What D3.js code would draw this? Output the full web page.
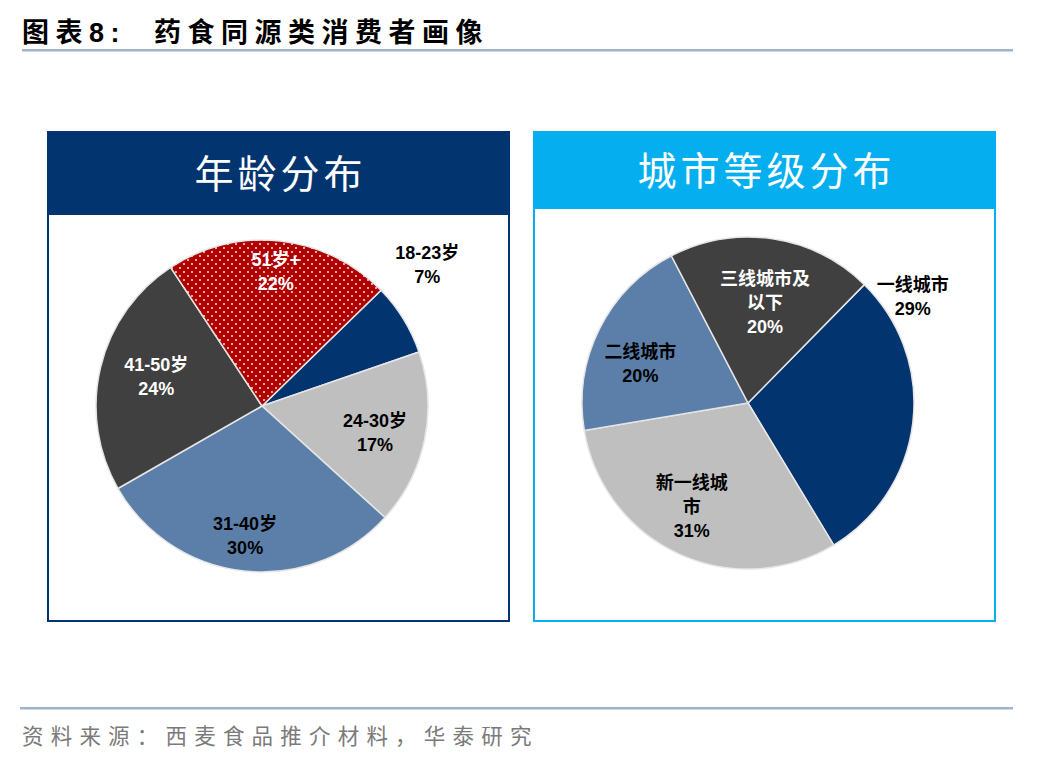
<!DOCTYPE html>
<html>
<head>
<meta charset="utf-8">
<script src="https://cdn.jsdelivr.net/npm/d3@7"></script>
<style>
    body { margin: 0; background: #fff; }
    text { font-family: "Liberation Sans", Arial, "Noto Sans CJK SC", sans-serif; }
    .cjk { font-family: "Noto Sans CJK SC", sans-serif; }
    .slice { stroke: #e6e6e6; stroke-width: 1.5px; }
    .lbl { font-size: 18px; font-weight: bold; }
</style>
</head>
<body>
<script>
// chart data
const titleText = "图表8:  药食同源类消费者画像";
const sourceText = "资料来源：西麦食品推介材料，华泰研究";

const agePanelTitle = "年龄分布";
const ageLabels = ["18-23岁", "24-30岁", "31-40岁", "41-50岁", "51岁+"];
const ageValues = [7, 17, 30, 24, 22];

const cityPanelTitle = "城市等级分布";
const cityLabels = ["一线城市", "新一线城市", "二线城市", "三线城市及以下"];
const cityLines = [["一线城市"], ["新一线城", "市"], ["二线城市"], ["三线城市及", "以下"]];
const cityValues = [29, 31, 20, 20];

// layout
const W = 1048, H = 760;
const svg = d3.select("body").append("svg")
    .attr("width", W)
    .attr("height", H);

// dotted pattern for the 51+ slice
let pat = svg.append("defs").append("pattern")
    .attr("id", "dots")
    .attr("patternUnits", "userSpaceOnUse")
    .attr("width", 8).attr("height", 8);
pat.append("rect").attr("width", 8).attr("height", 8).attr("fill", "#b00000");
pat.append("circle").attr("cx", 2).attr("cy", 2).attr("r", 0.9).attr("fill", "#fff");
pat.append("circle").attr("cx", 6).attr("cy", 6).attr("r", 0.9).attr("fill", "#fff");

// title + rules
svg.append("text")
    .attr("x", 22).attr("y", 42)
    .attr("font-size", 27).attr("font-weight", "bold")
    .attr("letter-spacing", 6.5)
    .attr("xml:space", "preserve")
    .text(titleText);
svg.append("rect").attr("x", 22).attr("y", 49).attr("width", 991).attr("height", 2.5).attr("fill", "#9fb3cc");
svg.append("rect").attr("x", 20).attr("y", 707).attr("width", 993).attr("height", 2.5).attr("fill", "#9fb3cc");
svg.append("text")
    .attr("class", "cjk")
    .attr("x", 22).attr("y", 744)
    .attr("font-size", 21.5).attr("fill", "#7a7a7a")
    .attr("letter-spacing", 7.2)
    .text(sourceText);

function panel(x, y, w, h, headH, color, title) {
    let g = svg.append("g");
    g.append("rect")
        .attr("x", x).attr("y", y).attr("width", w).attr("height", h)
        .attr("fill", "#fff").attr("stroke", color).attr("stroke-width", 2);
    g.append("rect")
        .attr("x", x).attr("y", y).attr("width", w).attr("height", headH)
        .attr("fill", color);
    g.append("text")
        .attr("class", "cjk")
        .attr("x", x + w / 2 + 2).attr("y", y + headH / 2 + 14)
        .attr("text-anchor", "middle")
        .attr("fill", "#fff").attr("font-size", 39)
        .attr("letter-spacing", 4)
        .text(title);
}

panel(48, 132, 461, 489, 83, "#02346f", agePanelTitle);
panel(534, 132, 461, 489, 77, "#05aeee", cityPanelTitle);

function drawPie(cx, cy, r, values, startDeg, colors, lines, textColors, spots) {
    let pie = d3.pie().sort(null)
        .startAngle(startDeg * Math.PI / 180)
        .endAngle((startDeg + 360) * Math.PI / 180);
    let arcs = pie(values);
    let arc = d3.arc().innerRadius(0).outerRadius(r);
    let g = svg.append("g").attr("transform", "translate(" + cx + "," + cy + ")");

    g.selectAll("path")
        .data(arcs)
        .join("path")
        .attr("class", "slice")
        .attr("d", arc)
        .attr("fill", (d, i) => colors[i]);

    // label at a fraction of the radius, with optional angle shift
    arcs.forEach((d, i) => {
        let a = (d.startAngle + d.endAngle) / 2 + spots[i][1] * Math.PI / 180;
        let rr = r * spots[i][0];
        let lx = Math.sin(a) * rr, ly = -Math.cos(a) * rr;
        let ls = lines[i];
        let lineH = 24;
        let t = g.append("text")
            .attr("class", "lbl")
            .attr("text-anchor", "middle")
            .attr("fill", textColors[i]);
        ls.forEach((s, k) => {
            t.append("tspan")
                .attr("x", lx)
                .attr("y", ly + (k - (ls.length - 1) / 2) * lineH + 6)
                .text(s);
        });
    });
}

// age pie
drawPie(262, 406, 166, ageValues, 45.8,
    ["#02346f", "#bfbfbf", "#5b7fa9", "#404040", "url(#dots)"],
    ageLabels.map((l, i) => [l, ageValues[i] + "%"]),
    ["#000", "#000", "#000", "#fff", "#fff"],
    [[1.31, -8.9], [0.70, 2], [0.79, 1.2], [0.66, 1.8], [0.81, -0.3]]);

// city pie
drawPie(748, 403, 166, cityValues, 44.5,
    ["#02346f", "#bfbfbf", "#5b7fa9", "#404040"],
    cityLines.map((l, i) => l.concat([cityValues[i] + "%"])),
    ["#000", "#000", "#000", "#fff"],
    [[1.18, -39.4], [0.71, 3.8], [0.69, -6.5], [0.61, 1.1]]);
</script>
</body>
</html>
